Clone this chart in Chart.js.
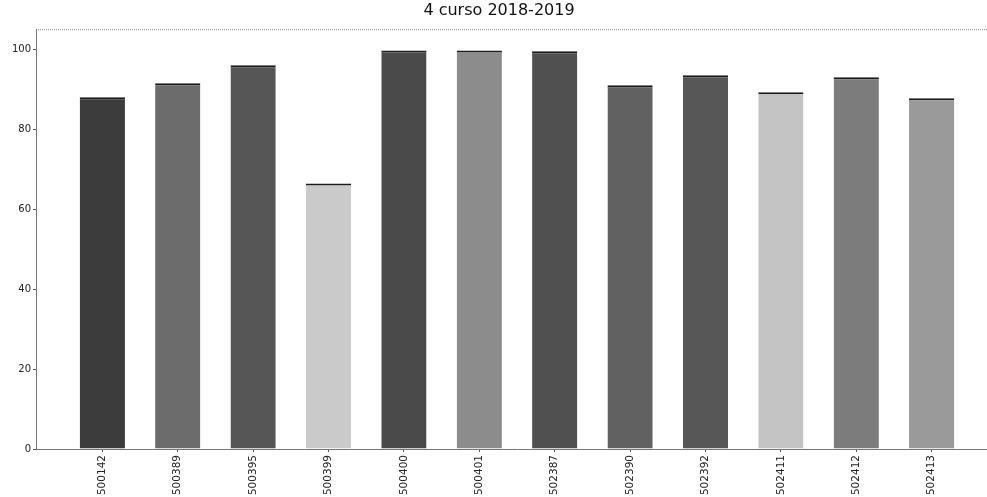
<!DOCTYPE html>
<html>
<head>
<meta charset="utf-8">
<script src="https://cdn.jsdelivr.net/npm/chart.js@4"></script>
<style>
  html, body { margin: 0; padding: 0; background: #fff; overflow: hidden; }
  #wrap { width: 1000px; height: 497px; }
</style>
</head>
<body>
<div id="wrap"><canvas id="cursoChart"></canvas></div>
<script>
// datos del gráfico
var centros = ["500142", "500389", "500395", "500399", "500400", "500401",
               "502387", "502390", "502392", "502411", "502412", "502413"];
var valores = [88, 91.5, 96, 66.4, 99.7, 99.7, 99.5, 91, 93.5, 89.2, 93, 87.7];
var ticksY = [0, 20, 40, 60, 80, 100];

// colores de las barras (escala de grises del escaneo)
var colores = ["#3c3c3c", "#6c6c6c", "#565656", "#cacaca", "#4a4a4a", "#8c8c8c",
               "#505050", "#616161", "#575757", "#c4c4c4", "#7c7c7c", "#9a9a9a"];

var puntos = valores.map(function (v, i) { return { x: i, y: v }; });

// línea superior del marco (punteada)
var marcoSuperior = {
    id: 'marcoSuperior',
    afterDraw: function (chart) {
        var a = chart.chartArea, c = chart.ctx;
        c.save();
        c.strokeStyle = '#8a8a8a';
        c.lineWidth = 1;
        c.setLineDash([1, 1]);
        c.beginPath();
        c.moveTo(a.left, a.top + 0.5);
        c.lineTo(a.right, a.top + 0.5);
        c.stroke();
        c.restore();
    }
};

var ctx = document.getElementById("cursoChart");
var chart = new Chart(ctx, {
    type: 'bar',
    data: {
        datasets: [{
            data: puntos,
            backgroundColor: colores,
            borderColor: '#1a1a1a',
            borderWidth: { top: 2, left: 0, right: 0, bottom: 0 },
            borderSkipped: 'bottom',
            barPercentage: 0.6,
            categoryPercentage: 1
        }]
    },
    options: {
        responsive: true,
        maintainAspectRatio: false,
        animation: false,
        layout: { padding: { left: 0, right: 2, top: 0, bottom: 0 } },
        scales: {
            x: {
                type: 'linear',
                offset: false,
                min: -0.88,
                max: 11.88,
                afterBuildTicks: function (scale) {
                    scale.ticks = centros.map(function (_, i) { return { value: i }; });
                },
                afterFit: function (scale) { scale.height = 48; },
                ticks: {
                    autoSkip: false,
                    minRotation: 90,
                    maxRotation: 90,
                    padding: 3,
                    color: '#222',
                    font: { family: 'DejaVu Sans', size: 10.5 },
                    callback: function (v) { return centros[v]; }
                },
                grid: { offset: false, drawOnChartArea: false, tickLength: 3, color: '#555' },
                border: { color: '#777', dash: [1, 1] }
            },
            y: {
                min: 0,
                max: 105,
                afterBuildTicks: function (scale) {
                    scale.ticks = ticksY.map(function (v) { return { value: v }; });
                },
                afterFit: function (scale) { scale.width = 36; },
                ticks: {
                    padding: 2,
                    color: '#222',
                    font: { family: 'DejaVu Sans', size: 10 }
                },
                grid: { drawOnChartArea: false, tickLength: 3, color: '#555' },
                border: { color: '#777', dash: [1, 1] }
            }
        },
        plugins: {
            legend: { display: false },
            tooltip: { enabled: false },
            title: {
                display: true,
                text: '4 curso 2018-2019',
                color: '#111',
                font: { family: 'DejaVu Sans', size: 16, weight: 'normal' },
                padding: { top: 1, bottom: 9 }
            }
        }
    },
    plugins: [marcoSuperior]
});
</script>
</body>
</html>
